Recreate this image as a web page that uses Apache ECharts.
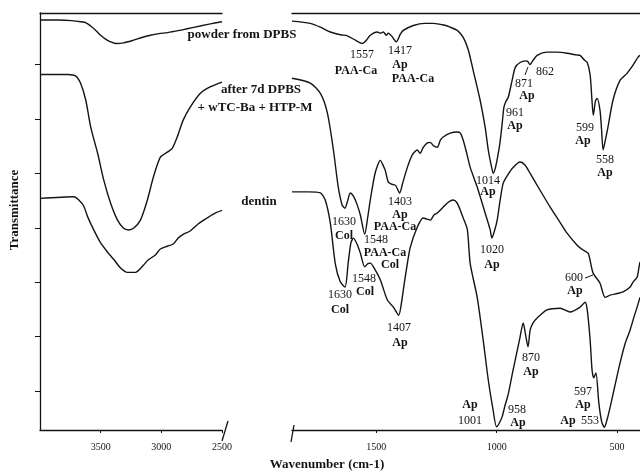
<!DOCTYPE html>
<html>
<head>
<meta charset="utf-8">
<script src="https://cdn.jsdelivr.net/npm/echarts@6/dist/echarts.min.js"></script>
<style>
  html, body { margin: 0; padding: 0; background: #fff; }
  #chart { width: 640px; height: 473px; }
</style>
</head>
<body>
<div id="chart"></div>
<script>
// FTIR spectra, [wavenumber (cm-1), transmittance (arb. units)]
// High-wavenumber window 4000-2500 cm-1
const powderOH = [[4000,75.4],[3850,75.4],[3740,75.3],[3664,75.1],[3620,74.9],[3582,74.3],[3540,73.5],[3500,72.6],[3460,71.9],[3418,71.4],[3377,71.1],[3311,71.2],[3229,71.7],[3160,72.2],[3090,72.6],[3020,72.9],[2951,73.1],[2902,73.3],[2850,73.5],[2787,73.8],[2680,74.3],[2574,74.8],[2500,75.1]];
const treatedOH = [[4000,65.4],[3770,65.4],[3705,65.1],[3664,63.7],[3623,60.7],[3582,55.7],[3525,50.9],[3475,46.0],[3418,41.7],[3361,38.6],[3311,37.1],[3270,36.8],[3229,37.1],[3172,38.6],[3115,42.3],[3066,46.5],[3008,50.2],[2951,51.1],[2910,51.8],[2869,53.9],[2820,57.0],[2762,59.4],[2680,61.9],[2598,63.1],[2500,64.0]];
const dentinOH = [[4000,42.6],[3721,42.9],[3680,42.3],[3640,41.2],[3607,39.2],[3557,36.8],[3500,34.4],[3443,32.7],[3393,31.4],[3336,29.8],[3279,29.0],[3213,29.0],[3148,30.3],[3107,31.3],[3049,32.2],[3008,33.3],[2951,33.8],[2902,34.2],[2861,35.3],[2820,36.0],[2762,36.6],[2697,37.9],[2623,39.0],[2557,39.9],[2500,40.4]];

// Fingerprint window 1850-405 cm-1
const powderFP = [[1850,75.2],[1774,74.8],[1732,74.1],[1691,73.2],[1649,72.7],[1620,72.5],[1587,71.7],[1557,71.1],[1541,71.7],[1525,72.6],[1496,73.2],[1483,73.0],[1471,73.2],[1458,72.6],[1450,73.0],[1435,72.4],[1417,71.4],[1400,72.8],[1388,73.5],[1346,74.4],[1300,74.8],[1263,74.8],[1220,74.5],[1193,74.1],[1164,73.5],[1139,72.2],[1118,69.9],[1098,66.2],[1069,60.7],[1048,55.7],[1035,51.5],[1022,48.5],[1014,47.2],[1005,48.3],[995,50.5],[986,53.0],[977,56.5],[970,59.4],[961,60.5],[952,61.2],[936,64.3],[923,66.7],[903,67.6],[880,67.9],[871,67.8],[862,67.2],[852,67.8],[832,68.9],[791,69.5],[750,69.5],[708,69.3],[670,69.0],[654,68.9],[635,68.0],[624,67.6],[612,65.3],[605,61.0],[599,57.9],[590,60.5],[583,61.0],[571,58.8],[565,55.5],[558,51.5],[548,53.5],[538,55.7],[517,60.7],[488,64.3],[459,65.6],[434,67.1],[413,68.6],[405,68.9]];
const treatedFP = [[1850,64.7],[1774,63.8],[1732,61.9],[1703,58.3],[1678,51.5],[1658,44.7],[1642,41.4],[1630,40.8],[1620,42.0],[1608,43.6],[1595,43.0],[1580,41.5],[1566,39.5],[1548,36.0],[1536,39.0],[1525,42.3],[1504,47.4],[1483,49.6],[1470,48.5],[1463,47.8],[1450,45.6],[1435,45.2],[1420,45.0],[1403,43.6],[1390,45.5],[1371,48.3],[1355,50.2],[1346,50.9],[1330,51.5],[1318,50.9],[1305,52.0],[1288,52.8],[1276,52.9],[1263,52.3],[1247,52.0],[1234,53.3],[1222,53.9],[1193,54.6],[1164,54.8],[1151,54.6],[1139,53.3],[1125,51.0],[1110,48.3],[1081,44.7],[1048,39.9],[1027,36.8],[1020,35.3],[1010,36.5],[998,38.6],[985,42.5],[973,45.4],[956,46.8],[932,48.3],[903,49.3],[882,48.7],[861,47.2],[820,44.1],[778,41.0],[737,38.2],[708,36.2],[666,34.0],[641,33.1],[620,32.5],[600,28.9],[571,27.0],[550,24.4],[529,24.8],[500,25.1],[475,25.4],[446,26.3],[434,27.2],[417,28.1],[409,30.0],[405,30.9]];
const dentinFP = [[1850,43.8],[1780,43.8],[1732,43.6],[1712,42.3],[1691,38.1],[1670,30.5],[1650,27.3],[1630,26.3],[1616,31.0],[1605,34.5],[1595,35.3],[1580,34.2],[1566,32.5],[1548,30.0],[1535,30.6],[1525,30.7],[1504,29.4],[1483,27.6],[1454,23.9],[1429,22.6],[1407,21.1],[1395,23.5],[1388,25.7],[1375,29.5],[1359,33.6],[1330,37.3],[1305,39.0],[1290,38.8],[1276,38.6],[1260,39.6],[1247,39.9],[1222,41.0],[1201,41.9],[1181,42.3],[1165,41.8],[1150,40.3],[1139,39.0],[1122,36.9],[1110,30.6],[1081,24.4],[1056,16.5],[1035,9.2],[1015,3.7],[1001,0.6],[990,1.2],[977,2.5],[965,4.6],[958,5.6],[950,7.0],[932,11.0],[903,17.1],[890,19.7],[880,17.5],[870,15.3],[861,18.4],[849,19.7],[832,20.6],[791,22.1],[737,22.4],[695,21.7],[654,22.6],[633,23.5],[624,22.1],[612,16.5],[604,11.0],[597,9.6],[588,10.5],[576,5.0],[564,1.5],[553,0.5],[540,2.2],[529,4.2],[510,8.0],[488,12.3],[466,16.0],[446,18.4],[430,20.8],[417,22.6],[405,24.4]];

// Axis ticks
const leftTicks = [3500, 3000, 2500];
const rightTicks = [1500, 1000, 500];
const yTicks = [7.2, 17.2, 27.2, 37.2, 47.2, 57.2, 67.2];

// Spectrum names and band assignments: [text, cx, cy, bold]
const traceNames = [
  ['powder from DPBS', 242, 35],
  ['after 7d DPBS', 261, 90],
  ['+ wTC-Ba + HTP-M', 255, 108],
  ['dentin', 259, 202]
];
const bandLabels = [
  ['1557', 362, 55, 0], ['PAA-Ca', 356, 71, 1],
  ['1417', 400, 51, 0], ['Ap', 400, 65, 1], ['PAA-Ca', 413, 79, 1],
  ['862', 545, 72, 0], ['871', 524, 84, 0], ['Ap', 527, 96, 1],
  ['961', 515, 113, 0], ['Ap', 515, 126, 1],
  ['599', 585, 128, 0], ['Ap', 583, 141, 1],
  ['558', 605, 160, 0], ['Ap', 605, 173, 1],
  ['1014', 488, 181, 0], ['Ap', 488, 192, 1],
  ['1630', 344, 222, 0], ['Col', 344, 236, 1],
  ['1403', 400, 202, 0], ['Ap', 400, 215, 1], ['PAA-Ca', 395, 227, 1],
  ['1548', 376, 240, 0], ['PAA-Ca', 385, 253, 1], ['Col', 390, 265, 1],
  ['1020', 492, 250, 0], ['Ap', 492, 265, 1],
  ['600', 574, 278, 0], ['Ap', 575, 291, 1],
  ['1548', 364, 279, 0], ['Col', 365, 292, 1],
  ['1630', 340, 295, 0], ['Col', 340, 310, 1],
  ['1407', 399, 328, 0], ['Ap', 400, 343, 1],
  ['870', 531, 358, 0], ['Ap', 531, 372, 1],
  ['Ap', 470, 405, 1], ['1001', 470, 421, 0],
  ['958', 517, 410, 0], ['Ap', 518, 423, 1],
  ['597', 583, 392, 0], ['Ap', 583, 405, 1], ['Ap', 568, 421, 1], ['553', 590, 421, 0]
];

const ink = '#141414';
const serif = '"Liberation Serif", "Times New Roman", serif';

const chart = echarts.init(document.getElementById('chart'), null, { renderer: 'canvas' });

function frameAxis(grid, min, max) {
  return {
    gridIndex: grid, type: 'value', min: min, max: max, inverse: true, position: 'top',
    axisLine: { show: true, onZero: false, lineStyle: { color: ink, width: 1.3 } },
    axisTick: { show: false }, axisLabel: { show: false }, splitLine: { show: false }
  };
}
function wnAxis(grid, min, max, ticks) {
  return {
    gridIndex: grid, type: 'value', min: min, max: max, inverse: true, position: 'bottom',
    axisLine: { show: true, onZero: false, lineStyle: { color: ink, width: 1.3 } },
    axisTick: { show: true, length: 3, customValues: ticks, lineStyle: { color: ink, width: 1 } },
    axisLabel: { show: true, customValues: ticks, margin: 12, color: ink, fontFamily: serif, fontSize: 10,
                 formatter: function (v) { return String(v); } },
    splitLine: { show: false }
  };
}
function spectrum(data, grid) {
  return {
    type: 'line', xAxisIndex: grid, yAxisIndex: grid, data: data,
    showSymbol: false, smooth: 0.25, silent: true,
    lineStyle: { color: ink, width: 1.4 }
  };
}

const graphics = [];
traceNames.forEach(function (t) {
  graphics.push({ type: 'text', x: t[1], y: t[2], silent: true,
    style: { text: t[0], align: 'center', verticalAlign: 'middle', fill: ink,
             font: 'bold 13px ' + serif } });
});
bandLabels.forEach(function (t) {
  graphics.push({ type: 'text', x: t[1], y: t[2], silent: true,
    style: { text: t[0], align: 'center', verticalAlign: 'middle', fill: ink,
             font: (t[3] ? 'bold ' : '') + '12px ' + serif } });
});
// leader strokes for the 871 and 600 bands
graphics.push({ type: 'line', silent: true, shape: { x1: 525, y1: 75, x2: 528, y2: 67 }, style: { stroke: ink, lineWidth: 1 } });
graphics.push({ type: 'line', silent: true, shape: { x1: 585, y1: 278, x2: 593, y2: 275 }, style: { stroke: ink, lineWidth: 1 } });
// axis break marks
graphics.push({ type: 'line', silent: true, shape: { x1: 222, y1: 441, x2: 228, y2: 421 }, style: { stroke: ink, lineWidth: 1.3 } });
graphics.push({ type: 'line', silent: true, shape: { x1: 291, y1: 442, x2: 294, y2: 425 }, style: { stroke: ink, lineWidth: 1.3 } });
// axis titles
graphics.push({ type: 'text', x: 15, y: 210, rotation: Math.PI / 2, silent: true,
  style: { text: 'Transmittance', align: 'center', verticalAlign: 'middle', fill: ink, font: 'bold 13px ' + serif } });
graphics.push({ type: 'text', x: 327, y: 465, silent: true,
  style: { text: 'Wavenumber (cm-1)', align: 'center', verticalAlign: 'middle', fill: ink, font: 'bold 13px ' + serif } });

chart.setOption({
  animation: false,
  backgroundColor: '#fff',
  grid: [
    { left: 40, width: 182, top: 13, height: 417 },
    { left: 292, right: 0, top: 13, height: 417 }
  ],
  xAxis: [
    wnAxis(0, 2500, 4000, leftTicks),
    wnAxis(1, 405, 1850, rightTicks),
    frameAxis(0, 2500, 4000),
    frameAxis(1, 405, 1850)
  ],
  yAxis: [
    { gridIndex: 0, type: 'value', min: 0, max: 76.7,
      axisLine: { show: true, onZero: false, lineStyle: { color: ink, width: 1.3 } },
      axisTick: { show: true, length: 5, customValues: yTicks, lineStyle: { color: ink, width: 1 } },
      axisLabel: { show: false }, splitLine: { show: false } },
    { gridIndex: 1, type: 'value', min: 0, max: 76.7, show: false }
  ],
  series: [
    spectrum(powderOH, 0), spectrum(treatedOH, 0), spectrum(dentinOH, 0),
    spectrum(powderFP, 1), spectrum(treatedFP, 1), spectrum(dentinFP, 1)
  ],
  graphic: graphics
});
</script>
</body>
</html>
